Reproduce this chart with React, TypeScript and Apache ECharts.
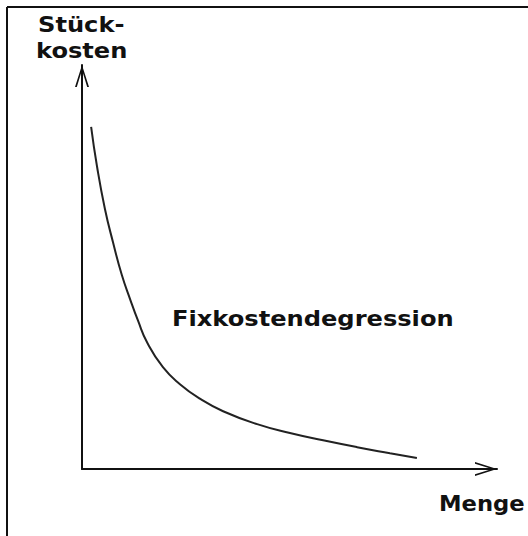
import React, { useEffect, useRef } from "react";
import * as echarts from "echarts";

// Curve: quantity (Menge) vs. unit cost (Stückkosten) (axis scale 0..100)
const mengeValues = [2.2, 3.6, 5.5, 7.5, 9.6, 11.6, 13.5, 15.7, 19.5, 23.6, 28.4, 34.0, 42.2, 50.1, 58.1, 66.3, 74.2, 80.7];
const stueckkostenValues = [84.7, 75.0, 64.5, 56.0, 48.0, 42.0, 36.7, 31.3, 25.2, 21.0, 17.4, 14.3, 11.1, 8.9, 7.1, 5.4, 3.9, 2.7];

const yAxisTitleLines = ["Stück-", "kosten"];
const xAxisTitle = "Menge";
const curveLabel = "Fixkostendegression";

const FONT = "'DejaVu Sans', Verdana, sans-serif";
const ARROW = "path://M7 0 L14 22 L12.2 22 L7 5 L1.8 22 L0 22 Z";

export default function App() {
  const ref = useRef<HTMLDivElement>(null);
  useEffect(() => {
    if (!ref.current) return;
    const chart = echarts.init(ref.current, null, { renderer: "svg" });
    const txt = (text: string, x: number, y: number, scaleX = 1.15) => ({
      type: "text",
      x,
      y,
      scaleX,
      style: {
        text,
        fill: "#111",
        font: `bold 21px ${FONT}`,
        align: "left",
        verticalAlign: "middle",
      },
    });
    chart.setOption({
      animation: false,
      backgroundColor: "#fff",
      grid: { left: 82, right: 31, top: 65, bottom: 67 },
      xAxis: {
        type: "value",
        min: 0,
        max: 100,
        axisLine: {
          show: true,
          symbol: ["none", ARROW],
          symbolSize: [14, 22],
          symbolOffset: [0, -11],
          lineStyle: { color: "#111", width: 2 },
        },
        axisTick: { show: false },
        axisLabel: { show: false },
        splitLine: { show: false },
      },
      yAxis: {
        type: "value",
        min: 0,
        max: 100,
        axisLine: {
          show: true,
          symbol: ["none", ARROW],
          symbolSize: [14, 22],
          symbolOffset: [0, -11],
          lineStyle: { color: "#111", width: 2 },
        },
        axisTick: { show: false },
        axisLabel: { show: false },
        splitLine: { show: false },
      },
      series: [
        {
          type: "line",
          data: mengeValues.map((x, i) => [x, stueckkostenValues[i]]),
          smooth: 0.5,
          showSymbol: false,
          lineStyle: { color: "#222", width: 2 },
        },
      ],
      graphic: [
        { type: "line", shape: { x1: 7, y1: 7, x2: 528, y2: 7 }, style: { stroke: "#111", lineWidth: 2 } },
        { type: "line", shape: { x1: 7, y1: 7, x2: 7, y2: 536 }, style: { stroke: "#111", lineWidth: 2 } },
        txt(yAxisTitleLines[0], 38, 25),
        txt(yAxisTitleLines[1], 36, 51),
        txt(curveLabel, 172, 319),
        txt(xAxisTitle, 439, 504, 1.08),
      ],
    });
    return () => chart.dispose();
  }, []);
  return (
    <div
      ref={ref}
      style={{ position: "absolute", left: 0, top: 0, width: 528, height: 536, background: "#fff" }}
    />
  );
}
